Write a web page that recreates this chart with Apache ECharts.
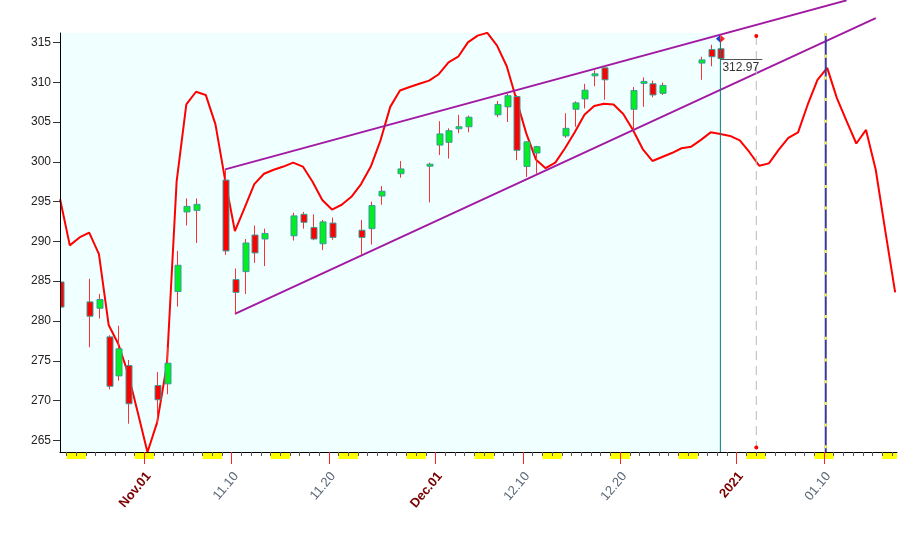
<!DOCTYPE html>
<html><head><meta charset="utf-8">
<script src="https://cdn.jsdelivr.net/npm/echarts@6/dist/echarts.min.js"></script>
<style>html,body{margin:0;padding:0;background:#fff}#c{width:912px;height:552px}</style>
</head><body><div id="c"></div>
<script>
// ---------------- DATA ----------------
const candleDates = ['2020-10-23','2020-10-26','2020-10-27','2020-10-28','2020-10-29','2020-10-30',
 '2020-11-02','2020-11-03','2020-11-04','2020-11-05','2020-11-06',
 '2020-11-09','2020-11-10','2020-11-11','2020-11-12','2020-11-13',
 '2020-11-16','2020-11-17','2020-11-18','2020-11-19','2020-11-20',
 '2020-11-23','2020-11-24','2020-11-25','2020-11-27',
 '2020-11-30','2020-12-01','2020-12-02','2020-12-03','2020-12-04',
 '2020-12-07','2020-12-08','2020-12-09','2020-12-10','2020-12-11',
 '2020-12-14','2020-12-15','2020-12-16','2020-12-17','2020-12-18',
 '2020-12-21','2020-12-22','2020-12-23','2020-12-24',
 '2020-12-28','2020-12-29','2020-12-30'];
const candleOpen  = [284.9,282.4,281.6,278.0,273.1,274.4, 271.9,272.1,283.7,293.7,293.9, 297.7,285.2,286.2,290.8,290.3, 290.7,293.4,291.75,289.7,292.3, 291.4,291.6,295.7,298.5, 299.5,302.1,302.45,304.3,304.4, 305.9,306.9,308.2,299.4,301.1, 303.25,306.6,307.9,310.85,311.8, 306.6,310.0,309.8,308.6, 312.4,314.1,314.2];
const candleClose = [281.75,280.6,282.7,271.8,276.5,269.6, 270.1,274.7,287.0,294.4,294.65, 288.8,283.6,289.8,288.55,291.0, 293.2,292.4,290.3,292.45,290.5, 290.5,294.5,296.3,299.1, 299.7,303.5,303.9,304.4,305.6, 307.2,308.3,301.45,302.5,301.9, 304.2,307.4,309.0,311.05,310.3, 308.95,310.1,308.4,309.6, 312.8,313.2,312.97];
const candleLow   = [281.5,276.7,280.3,271.4,272.5,267.1, 267.0,270.8,281.8,292.0,289.8, 288.3,280.9,283.4,287.3,286.9, 290.1,291.6,290.15,288.9,290.2, 288.3,289.6,294.6,298.0, 294.9,300.85,300.4,303.6,303.7, 305.6,305.0,300.2,298.1,298.5, 303.0,304.4,306.7,309.5,307.8, 304.0,306.9,308.1,308.4, 310.3,312.0,312.9];
const candleHigh  = [285.2,285.3,283.4,278.2,279.4,275.1, 273.6,276.7,288.8,295.4,295.4, 299.05,286.6,290.3,292.0,291.6, 293.6,293.7,293.4,292.7,293.0, 292.7,295.0,296.95,300.1, 299.9,305.1,304.2,305.9,305.8, 307.65,308.6,308.4,302.6,302.0, 306.1,307.6,309.8,311.5,312.0, 309.4,310.6,310.2,309.95, 313.2,314.7,315.4];

// smoothed cycle curve, one value per calendar day starting at curveStart
const curveStart = '2020-10-23';
const curveValues = [
 295.3,289.5,290.5,291.1,288.4,279.5,277.1,273.4,268.5,
 263.5,267.3,274.5,297.5,307.2,308.8,308.4,304.7,297.7,291.3,
 294.2,297.2,298.5,299.0,299.4,299.9,299.4,297.5,295.2,294.0,
 294.6,295.6,297.2,299.4,302.7,306.9,308.95,309.4,309.8,310.2,
 311.0,312.5,313.2,315.0,315.85,316.2,314.6,312.0,307.8,303.6,
 300.3,299.2,299.9,301.7,303.7,305.9,307.0,307.3,307.2,306.0,
 304.0,301.6,300.1,300.6,301.1,301.7,301.9,302.75,303.7,303.5,
 303.25,302.7,301.2,299.5,299.8,301.5,303.0,303.7,307.2,310.3,
 311.8,308.0,305.1,302.3,304.0,299.0,291.2,283.6];

// trend channel lines
const upperTrendDates  = ['2020-11-09','2021-01-12'];
const upperTrendValues = [299.05, 320.28];
const lowerTrendDates  = ['2020-11-10','2021-01-15'];
const lowerTrendValues = [280.9, 318.06];

// markers
const peakMarkerValue = 315.45;
const projectionDate = '2021-01-03';
const projectionTop = 315.8;
const projectionBottom = 264.1;
const cycleDate = '2021-01-10';

// axis ticks / labels
const yTickValues = [265,270,275,280,285,290,295,300,305,310,315];
const xLabelDates = ['2020-11-01','2020-11-10','2020-11-20','2020-12-01','2020-12-10','2020-12-20','2021-01-01','2021-01-10'];
const xLabelTexts = ['Nov.01','11.10','11.20','Dec.01','12.10','12.20','2021','01.10'];

// ---------------- SCALE HELPERS ----------------
const BASE = Date.UTC(2020,10,1);
function dayOf(s){const p=s.split('-').map(Number);return (Date.UTC(p[0],p[1]-1,p[2])-BASE)/86400000;}
const SHIFT = 0.33;            // bar centre offset within a day slot
const X_MIN = -8.68, X_MAX = 77.52;
const Y_MIN = 263.54, Y_MAX = 316.18;

const candleData = candleDates.map((d,i)=>[dayOf(d)+SHIFT,candleOpen[i],candleClose[i],candleLow[i],candleHigh[i]]);
const curveData = curveValues.map((v,i)=>[dayOf(curveStart)+i+SHIFT,v]);
const upperData = upperTrendDates.map((d,i)=>[dayOf(d)+SHIFT,upperTrendValues[i]]);
const lowerData = lowerTrendDates.map((d,i)=>[dayOf(d)+SHIFT,lowerTrendValues[i]]);
const last = candleDates.length-1;
const todayX = dayOf(candleDates[last])+SHIFT;
const lastClose = candleClose[last];
const projX = dayOf(projectionDate)+SHIFT-0.3;
const cycleX = dayOf(cycleDate)+SHIFT-0.15;

const dayTicks=[]; const weekends=[];
for(let d=Math.floor(X_MIN)+1; d<=Math.ceil(X_MAX); d++){ if(d>X_MIN && d<X_MAX) dayTicks.push(d); }
for(let d=Math.floor(X_MIN); d<=Math.ceil(X_MAX); d++){
  const wd = new Date(BASE+d*86400000).getUTCDay();
  if(wd===6) weekends.push([d,d+2]);
}
const labelDays = xLabelDates.map(dayOf);
const labelMap = {};
xLabelDates.forEach((d,i)=>{labelMap[dayOf(d)]={t:xLabelTexts[i],b:d.endsWith('-01')};});

const FONT = '"Liberation Sans", Arial, sans-serif';

const chart = echarts.init(document.getElementById('c'));
chart.setOption({
  animation:false,
  backgroundColor:'#ffffff',
  grid:{left:60,right:15,top:33,bottom:100},
  xAxis:[
    {type:'value',min:X_MIN,max:X_MAX,position:'bottom',z:10,
     axisLine:{show:true,onZero:false,lineStyle:{color:'#000',width:1}},
     axisTick:{show:true,customValues:dayTicks,length:4,lineStyle:{color:'#555'}},
     axisLabel:{show:false},splitLine:{show:false}},
    {type:'value',min:X_MIN,max:X_MAX,position:'bottom',z:10,
     axisLine:{show:false,onZero:false},
     axisTick:{show:true,customValues:labelDays,length:12,lineStyle:{color:'#ff2020'}},
     axisLabel:{show:false},splitLine:{show:false}},
    {type:'value',min:X_MIN,max:X_MAX,position:'bottom',z:10,
     axisLine:{show:false,onZero:false},axisTick:{show:false},splitLine:{show:false},
     axisLabel:{show:true,customValues:labelDays.map(v=>v+0.45),rotate:50,margin:22,
       formatter:function(v){const o=labelMap[Math.round(v-0.45)];if(!o)return '';return o.b?'{b|'+o.t+'}':'{n|'+o.t+'}';},
       rich:{b:{fontWeight:'bold',color:'#7a0000',fontSize:13,fontFamily:FONT},
             n:{color:'#5a6878',fontSize:13,fontFamily:FONT}}}}
  ],
  yAxis:{type:'value',min:Y_MIN,max:Y_MAX,z:10,position:'left',
    axisLine:{show:true,onZero:false,lineStyle:{color:'#000',width:1}},
    axisTick:{show:true,customValues:yTickValues,length:7,lineStyle:{color:'#333'}},
    axisLabel:{customValues:yTickValues,color:'#222',fontSize:12,fontFamily:FONT,margin:9},
    splitLine:{show:false}},
  series:[
    {type:'line',data:[],z:0,silent:true,
     markArea:{silent:true,itemStyle:{color:'#f0ffff'},data:[[{xAxis:X_MIN},{xAxis:todayX}]]}},
    {type:'custom',z:1,clip:false,silent:true,data:weekends,encode:{x:[0,1]},
     renderItem:function(params,api){
       const cs=params.coordSys;
       const s=api.coord([api.value(0),Y_MIN]), e=api.coord([api.value(1),Y_MIN]);
       const x1=Math.max(s[0],cs.x), x2=Math.min(e[0],cs.x+cs.width);
       if(x2<=x1) return null;
       return {type:'rect',shape:{x:x1,y:s[1]+0.5,width:x2-x1,height:6.5},style:{fill:'#ffff00'}};
     }},
    {type:'line',name:'cycle',data:curveData,z:3,symbol:'none',clip:true,
     lineStyle:{color:'#ff0000',width:2}},
    {type:'line',data:upperData,z:4,symbol:'none',clip:false,lineStyle:{color:'#a21aa2',width:2}},
    {type:'line',data:lowerData,z:4,symbol:'none',clip:false,lineStyle:{color:'#a21aa2',width:2}},
    {type:'custom',name:'price',z:5,clip:true,data:candleData,encode:{x:0,y:[1,2,3,4]},
     renderItem:function(params,api){
       const x=api.value(0),o=api.value(1),c=api.value(2),l=api.value(3),h=api.value(4);
       const top=api.coord([x,Math.max(o,c)]), bot=api.coord([x,Math.min(o,c)]);
       const hi=api.coord([x,h]), lo=api.coord([x,l]);
       const cx=Math.round(top[0])+0.5; const w=6;
       const bh=Math.max(bot[1]-top[1],2);
       return {type:'group',children:[
         {type:'line',shape:{x1:cx,y1:hi[1],x2:cx,y2:lo[1]},style:{stroke:'#ff3030',lineWidth:1}},
         {type:'rect',shape:{x:Math.round(cx-w/2),y:top[1],width:w,height:bh},
          style:{fill:c>=o?'#00ee22':'#ff0000',stroke:'#3a9a9a',lineWidth:1}}
       ]};
     }},
    {type:'line',data:[[todayX,peakMarkerValue],[todayX,Y_MIN]],z:6,symbol:'none',clip:false,
     lineStyle:{color:'#008080',width:1}},
    {type:'line',data:[[projX,projectionTop],[projX,projectionBottom]],z:6,symbol:'circle',symbolSize:4,clip:false,
     itemStyle:{color:'#ff0000'},lineStyle:{color:'#bbbbbb',width:1,type:[9,6]}},
    {type:'line',data:[[cycleX,Y_MAX],[cycleX,Y_MIN]],z:6,symbol:'none',
     lineStyle:{color:'#3a3a9a',width:2}},
    {type:'line',data:[[cycleX,Y_MAX],[cycleX,Y_MIN]],z:7,symbol:'none',
     lineStyle:{color:'#ffff44',width:2,type:[3,18.7]}},
    {type:'custom',z:8,clip:false,silent:true,data:[[todayX,lastClose,projX]],encode:{x:[0,2],y:1},
     renderItem:function(params,api){
       const a=api.coord([api.value(0),api.value(1)]), b=api.coord([api.value(2),api.value(1)]);
       const y=Math.round(a[1])+0.5;
       return {type:'group',children:[
         {type:'line',shape:{x1:a[0],y1:y,x2:b[0]+6,y2:y},style:{stroke:'#555',lineWidth:1}},
         {type:'text',style:{x:a[0]+2,y:y+2,text:api.value(1).toFixed(2),
           fill:'#333',font:'12px '+FONT,verticalAlign:'top'}}
       ]};
     }},
    {type:'custom',z:9,clip:false,silent:true,data:[[todayX,peakMarkerValue]],encode:{x:0,y:1},
     renderItem:function(params,api){
       const p=api.coord([api.value(0),api.value(1)]);
       const cx=p[0], cy=p[1], hw=4.5, hh=4;
       return {type:'group',children:[
         {type:'polygon',shape:{points:[[cx,cy-hh],[cx-hw,cy],[cx,cy+hh]]},style:{fill:'#1f3fd0'}},
         {type:'polygon',shape:{points:[[cx,cy-hh],[cx+hw,cy],[cx,cy+hh]]},style:{fill:'#ff2020'}}
       ]};
     }}
  ]
});
</script></body></html>
